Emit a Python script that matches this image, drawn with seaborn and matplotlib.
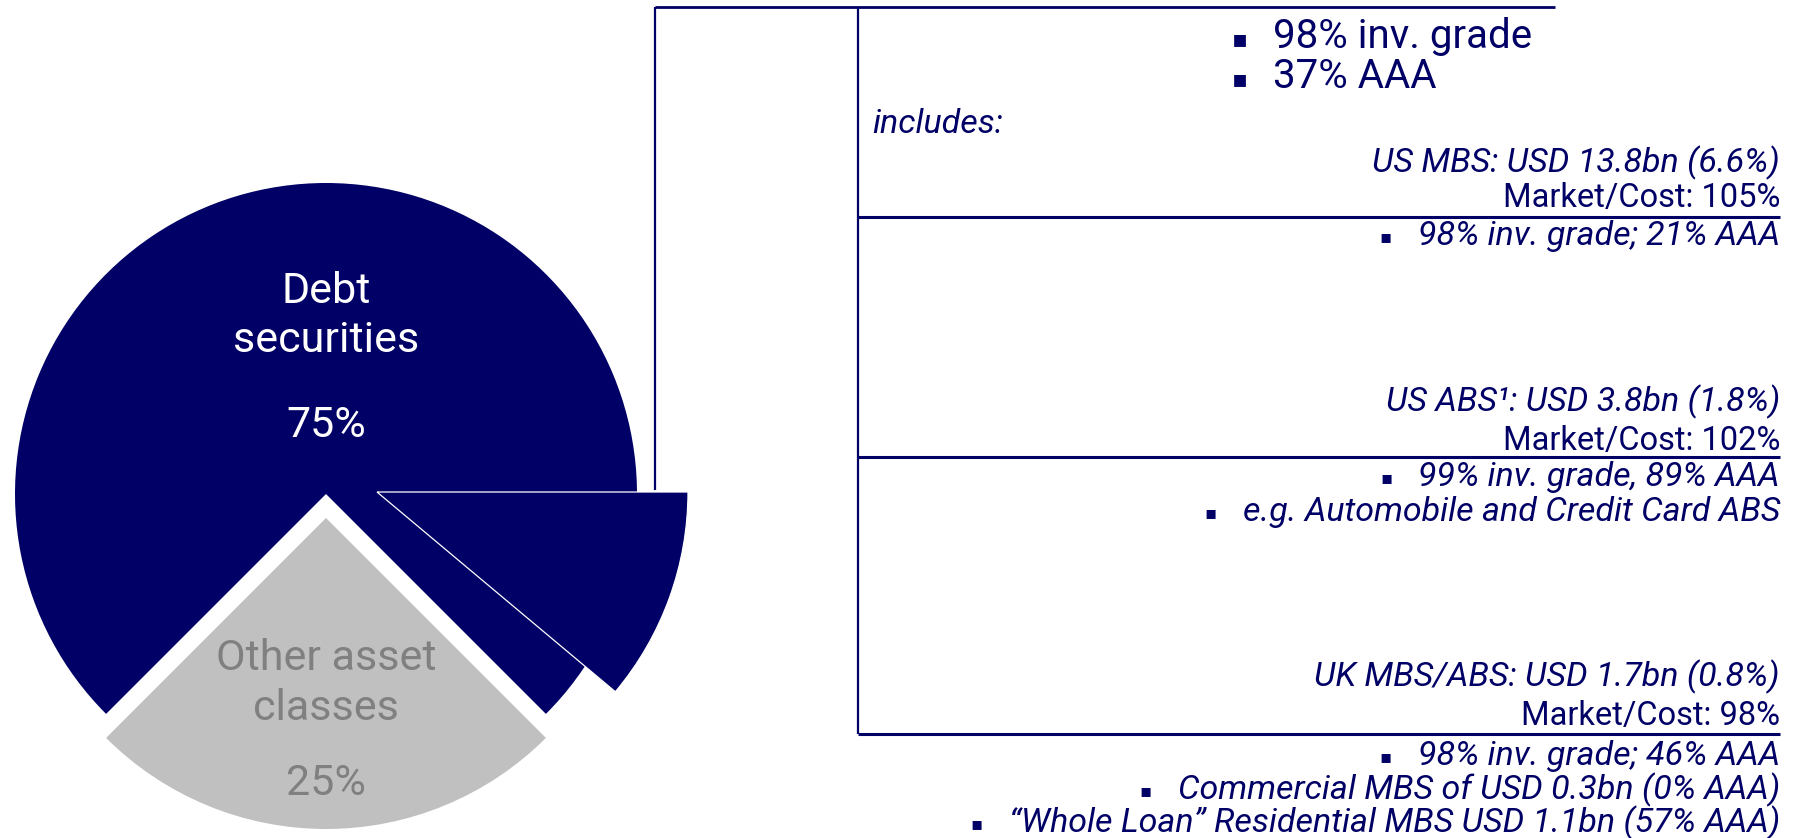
import matplotlib
matplotlib.use("Agg")
import matplotlib.pyplot as plt
import seaborn as sns

# Asset allocation (% of portfolio)
asset_labels = [["Debt", "securities"], ["Other asset", "classes"]]
asset_shares = [75, 25]
asset_pct_text = ["75%", "25%"]

# Slice pulled out of the debt part for the MBS/ABS detail (share as drawn)
mbs_abs_share = 11.1

top_bullets = ["98% inv. grade", "37% AAA"]

segments = [
    "US MBS: USD 13.8bn (6.6%)",
    "US ABS\u00b9: USD 3.8bn (1.8%)",
    "UK MBS/ABS: USD 1.7bn (0.8%)",
]
market_cost = ["Market/Cost: 105%", "Market/Cost: 102%", "Market/Cost: 98%"]
segment_notes = [
    ["98% inv. grade; 21% AAA"],
    ["99% inv. grade, 89% AAA", "e.g. Automobile and Credit Card ABS"],
    ["98% inv. grade; 46% AAA",
     "Commercial MBS of USD 0.3bn (0% AAA)",
     "\u201cWhole Loan\u201d Residential MBS USD 1.1bn (57% AAA)"],
]

NAVY = "#000066"
GREY = "#C0C0C0"
GREY_TXT = "#808080"

sns.set_theme(style="white")
plt.rcParams["font.family"] = ["Roboto", "DejaVu Sans"]

W, H = 1800, 838
fig = plt.figure(figsize=(W / 100, H / 100), dpi=100)
ax = fig.add_axes([0, 0, 1, 1])


def Y(y):
    # pixel row counted from the top -> data y
    return H - y


# main pie, grey slice pulled down
cx, cy, r = 326, Y(494), 311
ax.pie(asset_shares, colors=[NAVY, GREY], startangle=-45, counterclock=True,
       explode=[0, 24], center=(cx, cy), radius=r,
       wedgeprops=dict(linewidth=0))

# MBS/ABS slice pulled out to the right
sub, _ = ax.pie([mbs_abs_share, 100 - mbs_abs_share], colors=[NAVY, "none"],
                startangle=-360 * mbs_abs_share / 100, counterclock=True,
                center=(cx + 51, cy + 2), radius=r,
                wedgeprops=dict(edgecolor="white", linewidth=0.9))
sub[1].set_visible(False)

ax.set_xlim(0, W)
ax.set_ylim(0, H)
ax.set_aspect("auto")
ax.axis("off")

# pie labels
for txt, yb in zip(asset_labels[0] + [asset_pct_text[0]], [303, 352, 437]):
    ax.text(cx, Y(yb), txt, color="white", fontsize=31, ha="center", va="baseline")
for txt, yb in zip(asset_labels[1] + [asset_pct_text[1]], [670, 720, 795]):
    ax.text(cx, Y(yb), txt, color=GREY_TXT, fontsize=31, ha="center", va="baseline")

# bracket lines
lk = dict(color=NAVY, solid_capstyle="butt")
ax.plot([655, 655], [Y(7), Y(490)], lw=1.6, **lk)
ax.plot([655, 1555], [Y(7), Y(7)], lw=2.0, **lk)
ax.plot([858, 858], [Y(7), Y(734)], lw=1.6, **lk)
for yl in [217, 457, 734]:
    ax.plot([858, 1780], [Y(yl), Y(yl)], lw=2.2, **lk)

BULLET = "\u25aa"

# top bullets
for txt, yb in zip(top_bullets, [48, 88]):
    ax.text(1248, Y(yb) + 2, BULLET, color=NAVY, fontsize=17, ha="right",
            va="baseline", family="DejaVu Sans")
    ax.text(1273, Y(yb), txt, color=NAVY, fontsize=29, ha="left", va="baseline")

ax.text(872, Y(133), "includes:", color=NAVY, fontsize=24.5, style="italic",
        ha="left", va="baseline")

RX = 1780
seg_y = [172, 411, 686]
mc_y = [207, 450, 725]
note_y = [[245], [486, 521], [765, 799, 832]]
note_texts = []
for i in range(3):
    ax.text(RX, Y(seg_y[i]), segments[i], color=NAVY, fontsize=24.5, style="italic",
            ha="right", va="baseline")
    ax.text(RX, Y(mc_y[i]), market_cost[i], color=NAVY, fontsize=23.5,
            ha="right", va="baseline")
    for note, yb in zip(segment_notes[i], note_y[i]):
        t = ax.text(RX, Y(yb), note, color=NAVY, fontsize=24.5, style="italic",
                    ha="right", va="baseline")
        note_texts.append((t, yb))

# small square bullets in front of the right-aligned notes
fig.canvas.draw()
renderer = fig.canvas.get_renderer()
for t, yb in note_texts:
    x0 = t.get_window_extent(renderer).x0
    ax.text(x0 - 26, Y(yb) + 3, BULLET, color=NAVY, fontsize=13, ha="right",
            va="baseline", family="DejaVu Sans")

fig.savefig("out.png", dpi=100, facecolor="white")
